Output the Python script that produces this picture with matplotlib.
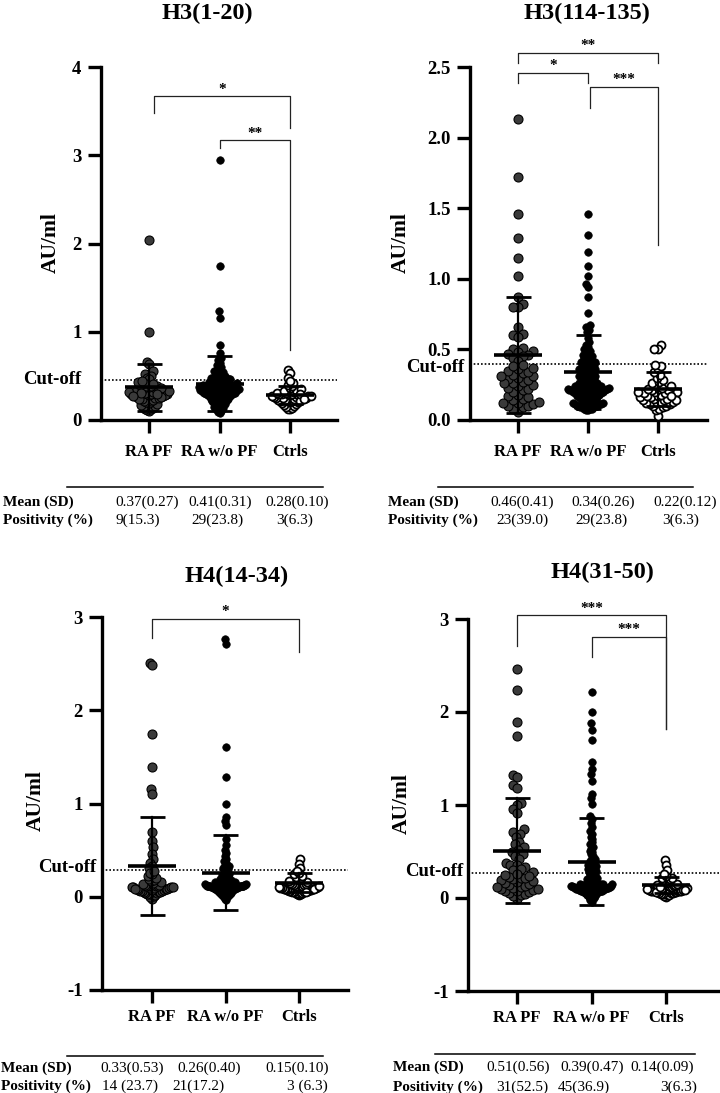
import numpy as np
import matplotlib.pyplot as plt
from matplotlib.lines import Line2D

plt.rcParams['font.family'] = ['Liberation Serif', 'DejaVu Serif']
plt.rcParams['font.weight'] = 'bold'

W, H = 720, 1093
groups = ['RA PF', 'RA w/o PF', 'Ctrls']

# ---------------- H3(1-20) ----------------
h3a_pf = [2.04, 1.00, 0.66, 0.64, 0.55, 0.52, 0.50, 0.48, 0.47,
          0.10, 0.11, 0.12, 0.13, 0.14, 0.15, 0.16, 0.17, 0.18, 0.19,
          0.20, 0.21, 0.22, 0.23, 0.24, 0.25, 0.25, 0.26, 0.27, 0.27,
          0.28, 0.29, 0.30, 0.30, 0.31, 0.32, 0.32, 0.33, 0.34, 0.35,
          0.35, 0.36, 0.37, 0.38, 0.38, 0.39, 0.40, 0.41, 0.42, 0.43,
          0.44, 0.30, 0.28, 0.26, 0.33, 0.36, 0.24, 0.29, 0.31, 0.27]
h3a_wo = [2.95, 1.74, 1.23, 1.16, 0.85, 0.76, 0.70, 0.68, 0.65, 0.62,
          0.60, 0.58, 0.56, 0.55, 0.54, 0.53, 0.52, 0.51, 0.50, 0.50,
          0.49, 0.49, 0.48, 0.48, 0.47, 0.47, 0.46, 0.46, 0.46,
          0.08, 0.09, 0.10, 0.11, 0.12, 0.13, 0.14, 0.15, 0.16, 0.17,
          0.18, 0.19, 0.20, 0.20, 0.21, 0.22, 0.22, 0.23, 0.24, 0.24,
          0.25, 0.25, 0.26, 0.26, 0.27, 0.27, 0.28, 0.28, 0.28, 0.29,
          0.29, 0.29, 0.30, 0.30, 0.30, 0.31, 0.31, 0.31, 0.32, 0.32,
          0.32, 0.33, 0.33, 0.33, 0.34, 0.34, 0.34, 0.35, 0.35, 0.35,
          0.36, 0.36, 0.36, 0.37, 0.37, 0.37, 0.38, 0.38, 0.38, 0.39,
          0.39, 0.39, 0.40, 0.40, 0.40, 0.41, 0.41, 0.41, 0.42, 0.42,
          0.42, 0.43, 0.43, 0.44, 0.44, 0.45, 0.45, 0.27, 0.30, 0.33,
          0.36, 0.39, 0.24, 0.21, 0.18, 0.34, 0.31, 0.37, 0.40, 0.28,
          0.35, 0.32, 0.38]
h3a_ctrl = [0.57, 0.53, 0.48,
            0.12, 0.13, 0.14, 0.15, 0.16, 0.17, 0.18, 0.19, 0.20, 0.20,
            0.21, 0.22, 0.22, 0.23, 0.23, 0.24, 0.24, 0.25, 0.25, 0.26,
            0.26, 0.27, 0.27, 0.28, 0.28, 0.29, 0.29, 0.30, 0.30, 0.31,
            0.31, 0.32, 0.33, 0.34, 0.35, 0.36, 0.38, 0.40, 0.42, 0.44,
            0.25, 0.27, 0.21, 0.29, 0.24]
h3a_mean = [0.37, 0.41, 0.28]
h3a_sd = [0.27, 0.31, 0.10]
h3a_pos = ['9(15.3)', '29(23.8)', '3(6.3)']

# ---------------- H3(114-135) ----------------
h3b_pf = [2.13, 1.72, 1.46, 1.29, 1.15, 1.02, 0.87, 0.82, 0.80, 0.80,
          0.66, 0.61, 0.60, 0.59, 0.51, 0.50, 0.49, 0.48, 0.47, 0.46,
          0.45, 0.44, 0.42,
          0.06, 0.08, 0.09, 0.10, 0.10, 0.11, 0.12, 0.13, 0.14, 0.15,
          0.16, 0.17, 0.18, 0.20, 0.21, 0.22, 0.23, 0.24, 0.25, 0.26,
          0.27, 0.28, 0.29, 0.30, 0.31, 0.32, 0.33, 0.34, 0.35, 0.36,
          0.37, 0.38, 0.39, 0.12, 0.26, 0.31]
h3b_wo = [1.46, 1.31, 1.19, 1.09, 1.02, 0.96, 0.94, 0.87, 0.76, 0.67,
          0.66, 0.64, 0.62, 0.58, 0.55, 0.53, 0.52, 0.50, 0.49, 0.48,
          0.47, 0.46, 0.45, 0.44, 0.43, 0.42, 0.42, 0.41, 0.41,
          0.07, 0.07, 0.08, 0.08, 0.08, 0.09, 0.09, 0.09, 0.10, 0.10,
          0.10, 0.11, 0.11, 0.11, 0.12, 0.12, 0.12, 0.13, 0.13, 0.14,
          0.14, 0.15, 0.15, 0.16, 0.16, 0.17, 0.17, 0.18, 0.18, 0.19,
          0.19, 0.19, 0.20, 0.20, 0.20, 0.21, 0.21, 0.21, 0.22, 0.22,
          0.22, 0.23, 0.23, 0.23, 0.24, 0.24, 0.24, 0.25, 0.25, 0.26,
          0.26, 0.27, 0.27, 0.28, 0.28, 0.29, 0.29, 0.30, 0.30, 0.31,
          0.31, 0.32, 0.32, 0.33, 0.33, 0.34, 0.34, 0.35, 0.35, 0.36,
          0.36, 0.37, 0.37, 0.38, 0.38, 0.39, 0.39, 0.40, 0.20, 0.21,
          0.22, 0.18, 0.19, 0.23, 0.17, 0.24, 0.21, 0.20, 0.22, 0.10,
          0.12, 0.15, 0.25]
h3b_ctrl = [0.53, 0.50, 0.50,
            0.03, 0.07, 0.08, 0.09, 0.10, 0.10, 0.11, 0.11, 0.12, 0.12,
            0.13, 0.13, 0.14, 0.14, 0.15, 0.15, 0.16, 0.16, 0.17, 0.17,
            0.18, 0.18, 0.19, 0.19, 0.20, 0.20, 0.21, 0.21, 0.22, 0.22,
            0.23, 0.24, 0.25, 0.26, 0.27, 0.28, 0.30, 0.32, 0.34, 0.36,
            0.38, 0.39, 0.14, 0.17, 0.20]
h3b_mean = [0.46, 0.34, 0.22]
h3b_sd = [0.41, 0.26, 0.12]
h3b_pos = ['23(39.0)', '29(23.8)', '3(6.3)']

# ---------------- H4(14-34) ----------------
h4a_pf = [2.51, 2.49, 1.74, 1.39, 1.16, 1.10, 0.69, 0.60, 0.53, 0.46,
          0.40, 0.36, 0.33, 0.31,
          -0.02, 0.00, 0.01, 0.02, 0.03, 0.03, 0.04, 0.04, 0.05, 0.05,
          0.05, 0.06, 0.06, 0.06, 0.07, 0.07, 0.07, 0.08, 0.08, 0.08,
          0.09, 0.09, 0.09, 0.10, 0.10, 0.10, 0.11, 0.11, 0.12, 0.12,
          0.13, 0.13, 0.14, 0.15, 0.16, 0.17, 0.18, 0.19, 0.20, 0.22,
          0.24, 0.26, 0.28, 0.08, 0.10]
h4a_wo = [2.76, 2.71, 1.61, 1.28, 1.00, 0.86, 0.81, 0.77, 0.62, 0.55,
          0.50, 0.47, 0.44, 0.41, 0.38, 0.36, 0.34, 0.33, 0.32, 0.31,
          0.30,
          -0.03, -0.02, -0.01, 0.00, 0.00, 0.01, 0.01, 0.02, 0.02, 0.03,
          0.03, 0.04, 0.04, 0.04, 0.05, 0.05, 0.05, 0.06, 0.06, 0.06,
          0.07, 0.07, 0.07, 0.08, 0.08, 0.08, 0.08, 0.09, 0.09, 0.09,
          0.09, 0.10, 0.10, 0.10, 0.10, 0.11, 0.11, 0.11, 0.11, 0.12,
          0.12, 0.12, 0.12, 0.13, 0.13, 0.13, 0.13, 0.14, 0.14, 0.14,
          0.14, 0.15, 0.15, 0.15, 0.16, 0.16, 0.16, 0.17, 0.17, 0.18,
          0.18, 0.19, 0.19, 0.20, 0.20, 0.21, 0.21, 0.22, 0.23, 0.24,
          0.25, 0.26, 0.27, 0.28, 0.29, 0.10, 0.11, 0.12, 0.13, 0.14,
          0.09, 0.08, 0.12, 0.11, 0.10, 0.13, 0.15, 0.07, 0.06, 0.14,
          0.12, 0.11, 0.10, 0.09, 0.13, 0.12, 0.11, 0.16, 0.08, 0.10,
          0.15]
h4a_ctrl = [0.41, 0.35, 0.31,
            0.02, 0.03, 0.03, 0.04, 0.04, 0.05, 0.05, 0.05, 0.06, 0.06,
            0.06, 0.07, 0.07, 0.07, 0.08, 0.08, 0.08, 0.09, 0.09, 0.09,
            0.10, 0.10, 0.10, 0.11, 0.11, 0.12, 0.12, 0.13, 0.13, 0.14,
            0.14, 0.15, 0.16, 0.17, 0.18, 0.19, 0.20, 0.21, 0.22, 0.24,
            0.26, 0.28, 0.05, 0.08, 0.11]
h4a_mean = [0.33, 0.26, 0.15]
h4a_sd = [0.53, 0.40, 0.10]
h4a_pos = ['14 (23.7)', '21(17.2)', '3 (6.3)']

# ---------------- H4(31-50) ----------------
h4b_pf = [2.46, 2.24, 1.89, 1.74, 1.32, 1.30, 1.22, 1.18, 1.02, 1.00,
          0.96, 0.91, 0.74, 0.71, 0.69, 0.66, 0.60, 0.58, 0.55, 0.52,
          0.50, 0.47, 0.45, 0.42, 0.38, 0.36, 0.35, 0.33, 0.31, 0.30,
          0.28,
          -0.01, 0.02, 0.03, 0.04, 0.05, 0.06, 0.07, 0.08, 0.09, 0.10,
          0.10, 0.11, 0.12, 0.13, 0.14, 0.15, 0.16, 0.17, 0.18, 0.19,
          0.20, 0.21, 0.22, 0.23, 0.24, 0.25, 0.26, 0.12]
h4b_wo = [2.22, 2.00, 1.88, 1.81, 1.70, 1.46, 1.39, 1.33, 1.26, 1.12,
          1.07, 1.01, 0.88, 0.85, 0.81, 0.76, 0.72, 0.69, 0.66, 0.63,
          0.60, 0.58, 0.55, 0.53, 0.51, 0.49, 0.47, 0.45, 0.43, 0.42,
          0.40, 0.39, 0.38, 0.37, 0.36, 0.35, 0.34, 0.33, 0.32, 0.31,
          0.30, 0.30, 0.29, 0.28, 0.28,
          -0.04, -0.02, -0.01, 0.00, 0.01, 0.02, 0.03, 0.03, 0.04, 0.04,
          0.05, 0.05, 0.05, 0.06, 0.06, 0.06, 0.07, 0.07, 0.07, 0.08,
          0.08, 0.08, 0.09, 0.09, 0.09, 0.10, 0.10, 0.10, 0.10, 0.11,
          0.11, 0.11, 0.11, 0.12, 0.12, 0.12, 0.12, 0.13, 0.13, 0.13,
          0.13, 0.14, 0.14, 0.14, 0.15, 0.15, 0.15, 0.16, 0.16, 0.17,
          0.17, 0.18, 0.18, 0.19, 0.20, 0.21, 0.22, 0.23, 0.24, 0.25,
          0.26, 0.10, 0.11, 0.12, 0.13, 0.14, 0.09, 0.08, 0.12, 0.11,
          0.10, 0.13, 0.15, 0.07, 0.06, 0.14, 0.12]
h4b_ctrl = [0.41, 0.36, 0.30,
            0.01, 0.02, 0.03, 0.03, 0.04, 0.04, 0.05, 0.05, 0.05, 0.06,
            0.06, 0.06, 0.07, 0.07, 0.07, 0.08, 0.08, 0.08, 0.09, 0.09,
            0.09, 0.10, 0.10, 0.10, 0.11, 0.11, 0.12, 0.12, 0.13, 0.13,
            0.14, 0.14, 0.15, 0.16, 0.17, 0.18, 0.19, 0.20, 0.21, 0.22,
            0.24, 0.26, 0.06, 0.09, 0.12]
h4b_mean = [0.51, 0.39, 0.14]
h4b_sd = [0.56, 0.47, 0.09]
h4b_pos = ['31(52.5)', '45(36.9)', '3(6.3)']

# ---------------- panel settings ----------------
panels = [
    dict(title='H3(1-20)', data=[h3a_pf, h3a_wo, h3a_ctrl], mean=h3a_mean, sd=h3a_sd,
         pos=h3a_pos, cutoff=0.45, ylim=(0, 4), yticks=[0, 1, 2, 3, 4], yfmt='{:.0f}',
         spine_x=101, right_x=337, top_y=67, bottom_y=420, cat_x=[149, 219, 290],
         title_xy=(207, 13), ylab_xy=(51, 243), cut_xy=(81, 380), xpad=7.5,
         brackets=[(0.07, 2.0, 3.67, 3.48, 3.31, '*'), (1.0, 2.0, 3.17, 3.08, 0.79, '**')],
         table=dict(lx=3, my=502, py=520, line=(67, 323, 487),
                    mx=[147, 220, 297], px=[138, 217, 295])),
    dict(title='H3(114-135)', data=[h3b_pf, h3b_wo, h3b_ctrl], mean=h3b_mean, sd=h3b_sd,
         pos=h3b_pos, cutoff=0.40, ylim=(0, 2.5), yticks=[0, 0.5, 1.0, 1.5, 2.0, 2.5],
         yfmt='{:.1f}',
         spine_x=470, right_x=707, top_y=67, bottom_y=420, cat_x=[518, 589, 658],
         title_xy=(587, 13), ylab_xy=(401, 243), cut_xy=(464, 367), xpad=7.5,
         brackets=[(0.0, 2.0, 2.60, 2.53, 2.53, '**'), (0.0, 1.0, 2.46, 2.39, 2.39, '*'),
                   (1.03, 2.0, 2.36, 2.21, 1.24, '***')],
         table=dict(lx=388, my=502, py=520, line=(438, 693, 487),
                    mx=[522, 603, 685], px=[522, 601, 681])),
    dict(title='H4(14-34)', data=[h4a_pf, h4a_wo, h4a_ctrl], mean=h4a_mean, sd=h4a_sd,
         pos=h4a_pos, cutoff=0.29, ylim=(-1, 3), yticks=[-1, 0, 1, 2, 3], yfmt='{:.0f}',
         spine_x=102, right_x=348, top_y=617, bottom_y=990, cat_x=[152, 226, 299],
         title_xy=(237, 576), ylab_xy=(36, 801), cut_xy=(96, 868), xpad=4.5,
         brackets=[(0.0, 2.0, 2.98, 2.78, 2.62, '*')],
         table=dict(lx=1, my=1068, py=1086, line=(67, 323, 1056),
                    mx=[132, 209, 297], px=[130, 198, 307])),
    dict(title='H4(31-50)', data=[h4b_pf, h4b_wo, h4b_ctrl], mean=h4b_mean, sd=h4b_sd,
         pos=h4b_pos, cutoff=0.27, ylim=(-1, 3), yticks=[-1, 0, 1, 2, 3], yfmt='{:.0f}',
         spine_x=468, right_x=720, top_y=619, bottom_y=991, cat_x=[517, 592, 666],
         title_xy=(602, 572), ylab_xy=(402, 804), cut_xy=(463, 872), xpad=4.5,
         brackets=[(0.0, 2.0, 3.04, 2.71, 1.82, '***'), (1.0, 2.0, 2.81, 2.59, 1.82, '***')],
         table=dict(lx=393, my=1067, py=1087, line=(435, 695, 1054),
                    mx=[518, 592, 662], px=[522, 584, 679])),
]

marker_px = [9, 7.5, 8]
face = ['#3a3a3a', 'black', 'white']
edge_w = [0.8, 0.5, 1.3]


def fx(x):
    return x / W


def fy(y):
    return 1 - y / H


def swarm(ypix, d, max_half):
    order = np.argsort(ypix, kind='stable')
    px_list, py_list = [], []
    xs = np.zeros(len(ypix))
    for i in order:
        y = ypix[i]
        near = [(a, b) for a, b in zip(px_list, py_list) if abs(b - y) < d]
        cands = [0.0]
        for a, b in near:
            dx = np.sqrt(d * d - (b - y) ** 2)
            cands += [a - dx, a + dx]
        cands.sort(key=abs)
        pick = cands[-1]
        for c in cands:
            if all((c - a) ** 2 + (y - b) ** 2 >= d * d - 1e-6 for a, b in near):
                pick = c
                break
        xs[i] = pick
        px_list.append(pick)
        py_list.append(y)
    m = np.abs(xs).max()
    if m > max_half:
        xs *= max_half / m
    return xs


fig = plt.figure(figsize=(W / 100, H / 100), dpi=100)

for p in panels:
    slope = (p['cat_x'][2] - p['cat_x'][0]) / 2.0
    xlo = (p['spine_x'] - p['cat_x'][0]) / slope
    xhi = 2 + (p['right_x'] - p['cat_x'][2]) / slope
    ax = fig.add_axes([fx(p['spine_x']), fy(p['bottom_y']),
                       (p['right_x'] - p['spine_x']) / W,
                       (p['bottom_y'] - p['top_y']) / H])
    ax.set_xlim(xlo, xhi)
    ax.set_ylim(*p['ylim'])
    ax.patch.set_alpha(0)
    for s in ['top', 'right']:
        ax.spines[s].set_visible(False)
    for s in ['left', 'bottom']:
        ax.spines[s].set_linewidth(2.4)
    ax.set_yticks(p['yticks'])
    ax.set_yticklabels([p['yfmt'].format(t) for t in p['yticks']])
    ax.set_xticks([0, 1, 2])
    ax.set_xticklabels(groups)
    ax.tick_params(axis='y', length=9.5, width=2.4, labelsize=13.5, pad=4.5)
    ax.tick_params(axis='x', length=9.5, width=2.4, labelsize=12, pad=p['xpad'])

    yscale = (p['bottom_y'] - p['top_y']) / (p['ylim'][1] - p['ylim'][0])
    for g, vals in enumerate(p['data']):
        v = np.array(vals, dtype=float)
        xs = swarm(v * yscale, marker_px[g] * 0.9, 20.5) / slope
        ax.scatter(g + xs, v, s=(marker_px[g] * 0.72) ** 2, c=face[g],
                   edgecolors='black', linewidths=edge_w[g], zorder=3, clip_on=False)
        m, sd = p['mean'][g], p['sd'][g]
        ax.plot([g - 24 / slope, g + 24 / slope], [m, m], color='black', lw=2.6,
                zorder=5, solid_capstyle='butt')
        ax.plot([g, g], [m - sd, m + sd], color='black', lw=1.6, zorder=5)
        for yy in (m - sd, m + sd):
            ax.plot([g - 12.5 / slope, g + 12.5 / slope], [yy, yy], color='black',
                    lw=2.0, zorder=5, solid_capstyle='butt')

    ax.axhline(p['cutoff'], color='black', ls=(0, (1, 1.2)), lw=1.2, zorder=2)

    for x1, x2, yl, y1, y2, star in p['brackets']:
        ax.plot([x1, x1, x2, x2], [y1, yl, yl, y2], color='#222222', lw=0.9,
                clip_on=False, zorder=4)
        ax.annotate(star, xy=((x1 + x2) / 2, yl), xytext=(0, 5), textcoords='offset points',
                    ha='center', va='center', fontsize=11, annotation_clip=False)

    fig.text(fx(p['title_xy'][0]), fy(p['title_xy'][1]), p['title'], ha='center',
             va='center', fontsize=17.5, fontweight='bold')
    fig.text(fx(p['ylab_xy'][0]), fy(p['ylab_xy'][1]), 'AU/ml', ha='center', va='center',
             rotation=90, fontsize=15.5, fontweight='bold')
    fig.text(fx(p['cut_xy'][0]), fy(p['cut_xy'][1]), 'Cut-off', ha='right', va='center',
             fontsize=13.5, fontweight='bold')

    t = p['table']
    x0, x1, yline = t['line']
    fig.add_artist(Line2D([fx(x0), fx(x1)], [fy(yline), fy(yline)], color='black', lw=1.1))
    fig.text(fx(t['lx']), fy(t['my']), 'Mean (SD)', ha='left', va='center',
             fontsize=11, fontweight='bold')
    fig.text(fx(t['lx']), fy(t['py']), 'Positivity (%)', ha='left', va='center',
             fontsize=11, fontweight='bold')
    for g in range(3):
        fig.text(fx(t['mx'][g]), fy(t['my']), f"{p['mean'][g]:.2f}({p['sd'][g]:.2f})",
                 ha='center', va='center', fontsize=11, fontweight='normal')
        fig.text(fx(t['px'][g]), fy(t['py']), p['pos'][g], ha='center', va='center',
                 fontsize=11, fontweight='normal')

fig.savefig('out.png', dpi=100)
